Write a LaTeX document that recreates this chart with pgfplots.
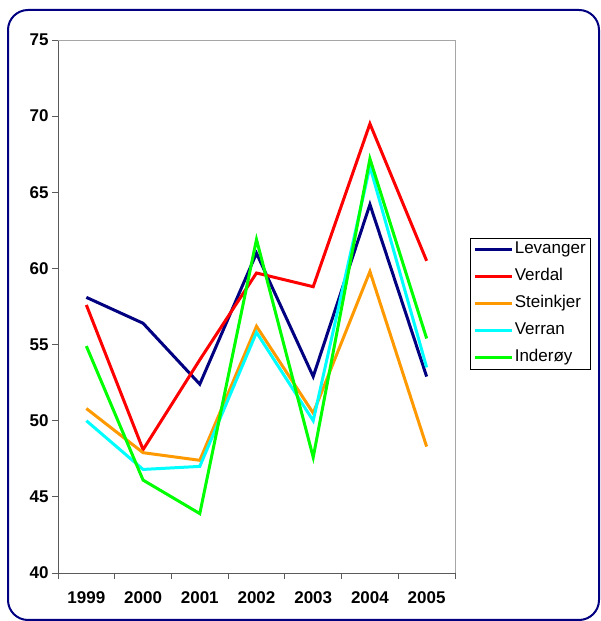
\documentclass[border=0pt]{standalone}
\usepackage{pgfplots}
\pgfplotsset{compat=1.18}
\usepackage{fontspec}
\setmainfont{Liberation Sans}

\definecolor{cNavy}{RGB}{0,0,128}
\definecolor{cOrange}{RGB}{255,153,0}
\definecolor{cCyan}{RGB}{0,255,255}
\definecolor{cGreen}{RGB}{0,255,0}
\definecolor{axgray}{RGB}{90,90,90}

\pgfplotsset{
  longline/.style={legend image code/.code={\draw[##1, line width=3pt] (0pt,0pt) -- (37pt,0pt);}},
}

\begin{document}
\begin{tikzpicture}[x=1pt,y=1pt]
  \useasboundingbox (0,0) rectangle (600,621);
  \draw[cNavy, line width=2pt, rounded corners=20pt] (8,1) rectangle (599,611);
  \coordinate (O) at (58,48);
  \begin{axis}[
    at={(O)}, anchor=south west,
    scale only axis, width=397pt, height=533pt,
    xmin=0.5, xmax=7.5, ymin=40, ymax=75,
    xtick={1,...,7},
    xticklabels={1999,2000,2001,2002,2003,2004,2005},
    minor xtick={0.5,1.5,...,7.5},
    ytick={40,45,...,75},
    tick pos=left, tick align=outside,
    major x tick style={draw=none},
    minor tick length=6pt, major tick length=6pt,
    every tick/.style={axgray, line width=0.8pt},
    /pgf/number format/assume math mode=true,
    xticklabel style={font=\fontsize{17}{19}\selectfont\bfseries, yshift=-9pt},
    yticklabel style={font=\fontsize{17}{19}\selectfont\bfseries, xshift=0pt},
    axis line style={axgray, line width=0.8pt},
    axis x line*=bottom, axis y line*=left,
    clip=false,
    every axis plot/.append style={line width=3pt, mark=none},
    legend style={at={(rel axis cs:1,1)}, anchor=north west,
      xshift=15pt, yshift=-198pt,
      font=\fontsize{17}{19}\selectfont, draw=black, line width=0.6pt,
      inner xsep=3pt, inner ysep=2pt, row sep=8pt,
      nodes={inner sep=1.5pt, text height=12pt, text depth=4pt}},
    legend cell align=left,
  ]
    \draw[gray!70, line width=0.8pt] (axis cs:0.5,75) -- (axis cs:7.5,75) -- (axis cs:7.5,40);
    \addplot[cNavy, longline] coordinates {(1,58.1)(2,56.4)(3,52.4)(4,61.0)(5,52.9)(6,64.2)(7,52.9)};
    \addplot[red, longline] coordinates {(1,57.6)(2,48.1)(3,54.0)(4,59.7)(5,58.8)(6,69.5)(7,60.5)};
    \addplot[cOrange, longline] coordinates {(1,50.8)(2,47.9)(3,47.4)(4,56.2)(5,50.5)(6,59.8)(7,48.3)};
    \addplot[cCyan, longline] coordinates {(1,50.0)(2,46.8)(3,47.0)(4,55.8)(5,50.0)(6,66.7)(7,53.5)};
    \addplot[cGreen, longline] coordinates {(1,54.9)(2,46.1)(3,43.9)(4,61.9)(5,47.6)(6,67.2)(7,55.4)};
    \legend{Levanger, Verdal, Steinkjer, Verran, Inderøy}
  \end{axis}
\end{tikzpicture}
\end{document}
